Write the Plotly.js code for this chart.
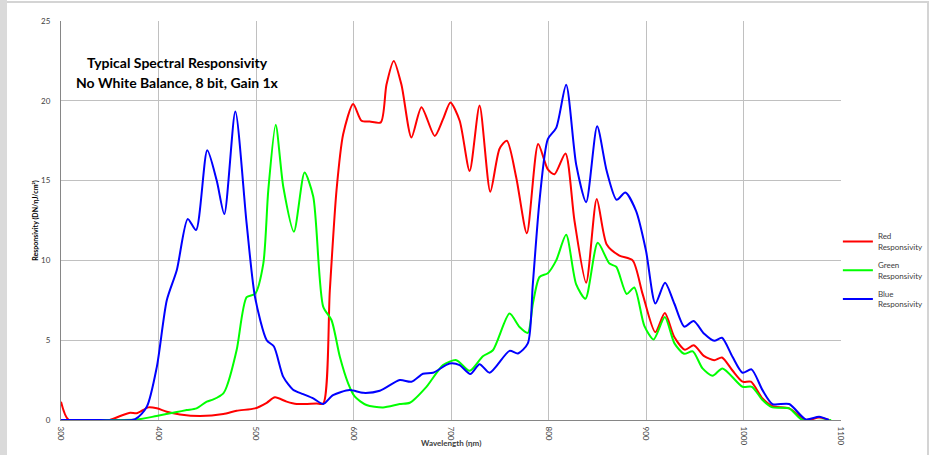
<!DOCTYPE html>
<html>
<head>
<meta charset="utf-8">
<script src="https://cdn.plot.ly/plotly-3.0.1.min.js"></script>
<style>
  html, body { margin: 0; padding: 0; background: #fff; }
  #wrap { position: relative; width: 933px; height: 455px; overflow: hidden; }
  #chart { position: absolute; left: 0; top: 0; width: 933px; height: 455px; }
  .frameL { position: absolute; left: 0; top: 0; width: 7px; height: 455px; background: #dadada; }
  .frameT { position: absolute; left: 7px; top: 1px; width: 922px; height: 2px; background: #d4d4d4; }
  .frameR { position: absolute; left: 927px; top: 1px; width: 2px; height: 454px; background: #d4d4d4; }
</style>
</head>
<body>
<div id="wrap">
  <div id="chart"></div>
  <div class="frameL"></div>
  <div class="frameT"></div>
  <div class="frameR"></div>
</div>
<script>
// Wavelength (nm) and responsivity values
const redWl = [300, 308, 350, 360.7, 371, 377.7, 389.7, 398.3, 408.5, 422, 442.6, 466.5, 480.2, 499, 511, 519.4, 531.4, 541.7, 562, 569, 575.7, 582.6, 589.4, 599.6, 608.2, 616.7, 628, 633.8, 641.3, 649.2, 659.4, 669.7, 683.3, 691.8, 699.4, 708.9, 719.1, 729.3, 740.3, 749.8, 757.3, 766.9, 777.8, 789.4, 799.3, 806.2, 817.4, 826.6, 838.6, 849.5, 859.7, 872.7, 886.3, 896.5, 909.5, 919.3, 929, 940, 949, 959.7, 970, 977.9, 988.7, 999, 1007.6, 1019.5, 1029.7, 1046.8, 1063.9, 1077.5, 1087.7];
const redVal = [1.15, 0, 0, 0.25, 0.46, 0.42, 0.79, 0.73, 0.52, 0.35, 0.25, 0.37, 0.58, 0.73, 1.08, 1.42, 1.15, 1.0, 1.04, 1.04, 8.1, 14.4, 17.9, 19.8, 18.75, 18.7, 18.65, 21.0, 22.5, 21.0, 17.7, 19.6, 17.8, 18.85, 19.9, 18.75, 15.6, 19.7, 14.3, 17.0, 17.5, 15.2, 11.7, 17.3, 15.7, 15.4, 16.7, 12.5, 8.6, 13.85, 11.0, 10.3, 10.0, 7.9, 5.5, 6.7, 5.2, 4.4, 4.68, 4.0, 3.75, 3.92, 3.1, 2.4, 2.4, 1.35, 0.87, 0.73, 0, 0.15, 0];

const greenWl = [300, 350, 378, 398, 418.8, 429, 439, 449.5, 456.3, 466.5, 470, 480.2, 490.4, 499, 507.5, 512.6, 520.2, 528, 538.9, 549.8, 558.7, 568.9, 577.5, 586, 594.5, 601.4, 613.3, 630.3, 647.4, 657.7, 674.8, 691.8, 705.5, 719.1, 732.7, 743, 760, 770.3, 778.8, 784, 790.8, 799.3, 807.9, 818.1, 828.4, 837.9, 850.5, 862.5, 869.5, 880.2, 888, 898.3, 907.8, 919.3, 929.2, 939, 948, 958, 968.3, 978.5, 999, 1008.6, 1019.5, 1029.7, 1046.8, 1060.4, 1090];
const greenVal = [0, 0, 0.03, 0.25, 0.5, 0.62, 0.73, 1.15, 1.29, 1.67, 2.1, 4.4, 7.7, 7.9, 9.8, 14.4, 18.5, 14.6, 11.8, 15.5, 14.0, 7.1, 6.25, 3.96, 2.3, 1.46, 0.94, 0.79, 1.0, 1.08, 2.08, 3.44, 3.75, 3.08, 4.0, 4.37, 6.67, 5.83, 5.46, 7.3, 8.96, 9.2, 10.0, 11.6, 8.5, 7.6, 11.1, 9.8, 9.6, 7.9, 8.3, 5.9, 5.05, 6.46, 4.8, 4.15, 4.3, 3.23, 2.77, 3.23, 2.08, 2.08, 1.25, 0.79, 0.73, 0, 0];

const blueWl = [300, 340, 376, 388, 398.3, 408.5, 418.8, 430, 438.5, 450, 459.7, 467.5, 478.8, 490.4, 499, 511, 518.4, 528, 538, 548.4, 558.7, 568.9, 579, 596, 609.9, 627, 647.4, 659.4, 671.3, 681.5, 698.6, 708.9, 719.8, 729.3, 739.6, 760, 768.6, 778.8, 783.9, 790.8, 799.3, 807.9, 818.1, 828.4, 838.6, 849.9, 859.7, 869.9, 878.8, 889.8, 900, 909.6, 919.5, 929, 939.3, 948.8, 959.7, 970, 977.9, 988.7, 999, 1008.2, 1019.5, 1029.7, 1046.8, 1063.9, 1077.5, 1087.7];
const blueVal = [0, 0, 0.05, 0.83, 3.33, 7.5, 9.4, 12.6, 11.9, 16.9, 15.0, 12.9, 19.33, 12.3, 7.7, 5.0, 4.6, 2.7, 1.9, 1.62, 1.35, 1.0, 1.56, 1.88, 1.7, 1.83, 2.5, 2.4, 2.9, 2.96, 3.54, 3.44, 2.88, 3.5, 2.96, 4.33, 4.17, 4.8, 8.5, 13.75, 17.6, 18.3, 21.0, 16.0, 13.65, 18.4, 15.6, 13.8, 14.25, 13.1, 10.6, 7.3, 8.6, 7.3, 5.85, 6.2, 5.4, 4.96, 5.15, 3.96, 2.96, 3.17, 1.87, 1.0, 1.0, 0.04, 0.2, 0];

const seriesNames = ['Red<br>Responsivity', 'Green<br>Responsivity', 'Blue<br>Responsivity'];
const titleLines = ['Typical Spectral Responsivity', 'No White Balance, 8 bit, Gain 1x'];
const xTitle = 'Wavelength (ηm)';
const yTitle = 'Responsivity (DN/ηJ/cm²)';

const FONT = 'Lato, "Open Sans", sans-serif';
function tr(x, y, name, color, grp) {
  return { x: x, y: y, name: name, legendgroup: grp, type: 'scatter', mode: 'lines',
    line: { color: color, width: 2, shape: 'spline', smoothing: 0.7 }, hoverinfo: 'skip' };
}
const data = [
  tr(redWl, redVal, seriesNames[0], '#ff0000', 'r'),
  tr(greenWl, greenVal, seriesNames[1], '#00ff00', 'g'),
  tr(blueWl, blueVal, seriesNames[2], '#0000ff', 'b')
];
const layout = {
  width: 933, height: 455,
  margin: { l: 61, r: 92, t: 21, b: 35, autoexpand: false },
  paper_bgcolor: 'rgba(0,0,0,0)', plot_bgcolor: '#ffffff',
  font: { family: FONT, color: '#404040', size: 8 },
  showlegend: true,
  legend: { x: 0.996, xanchor: 'left', y: 0.49, yanchor: 'top', bgcolor: 'rgba(0,0,0,0)',
    font: { family: FONT, size: 8, color: '#404040' }, itemwidth: 30, tracegroupgap: 5 },
  xaxis: {
    range: [300, 1100], dtick: 100, tick0: 300, tickangle: 90,
    showgrid: true, gridcolor: '#c0c0c0', gridwidth: 1,
    showline: true, linecolor: '#868686', linewidth: 1, zeroline: false,
    ticks: '', ticklabelstandoff: 4, tickfont: { family: FONT, size: 8, color: '#404040' },
    automargin: false, fixedrange: true
  },
  yaxis: {
    range: [0, 25], dtick: 5, tick0: 0,
    showgrid: true, gridcolor: '#c0c0c0', gridwidth: 1,
    showline: true, linecolor: '#868686', linewidth: 1, zeroline: false,
    ticks: '', ticklabelstandoff: 8, tickfont: { family: FONT, size: 8, color: '#404040' },
    title: { text: yTitle, font: { family: FONT, size: 7, color: '#000000', weight: 'bold' }, standoff: 1 },
    automargin: false, fixedrange: true
  },
  annotations: [
    { xref: 'paper', yref: 'paper', x: 0.149, y: 0.8966, xanchor: 'center', yanchor: 'middle', showarrow: false,
      text: '<b>' + titleLines[0] + '</b>', font: { family: FONT, size: 14, color: '#000000' } },
    { xref: 'paper', yref: 'paper', x: 0.149, y: 0.8465, xanchor: 'center', yanchor: 'middle', showarrow: false,
      text: '<b>' + titleLines[1] + '</b>', font: { family: FONT, size: 14, color: '#000000' } },
    { xref: 'paper', yref: 'paper', x: 0.5, y: -0.058, xanchor: 'center', yanchor: 'middle', showarrow: false,
      text: '<b>' + xTitle + '</b>', font: { family: FONT, size: 8, color: '#404040' } }
  ]
};
Plotly.newPlot('chart', data, layout, { displayModeBar: false, staticPlot: true });
</script>
</body>
</html>
